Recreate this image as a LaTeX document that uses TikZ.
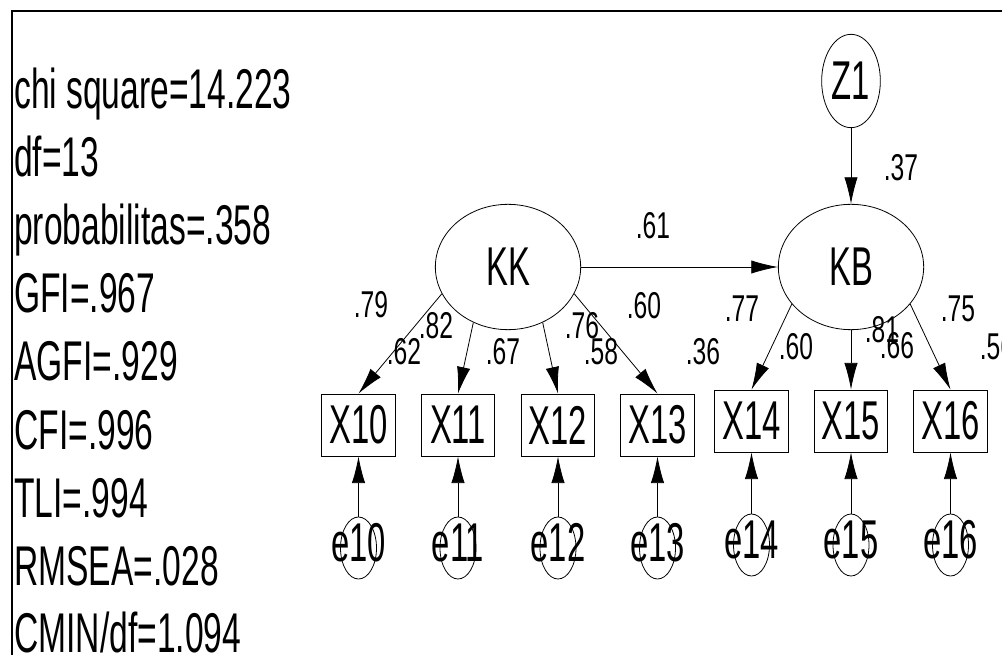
\documentclass[tikz,border=0pt]{standalone}
\usepackage{fontspec}
\setmainfont{Liberation Sans}
\newfontfamily\narfont[FakeStretch=0.6]{Liberation Sans}
\newfontfamily\coeffont[FakeStretch=0.66]{Liberation Sans}
\usetikzlibrary{arrows.meta,shapes.geometric}
\begin{document}
\begin{tikzpicture}[x=0.75pt,y=-0.75pt,
  big/.style={font=\narfont\fontsize{41}{41}\selectfont},
  coef/.style={font=\coeffont\fontsize{28}{28}\selectfont, inner sep=0},
  latent/.style={ellipse, draw, line width=0.6pt, inner sep=0, minimum width=109pt, minimum height=94pt, big},
  obs/.style={rectangle, draw, line width=0.6pt, inner sep=0, minimum width=55pt, minimum height=46.5pt, big},
  errnode/.style={ellipse, draw, line width=0.6pt, inner sep=0, minimum width=27pt, minimum height=46.5pt},
  arrowline/.style={draw, line width=0.6pt, -{Latex[length=20pt,width=10pt]}},
  fitstat/.style={anchor=base west, inner sep=0, font=\narfont\fontsize{42}{42}\selectfont},
  framel/.style={line width=1.5pt}]
\useasboundingbox (0,0) rectangle (1002,655);
% frame
\coordinate (fbl) at (12,655);
\coordinate (ftl) at (12,11);
\coordinate (ftr) at (1002,11);
\draw[framel] (fbl) -- (ftl) -- (ftr);
% fit statistics
\node[fitstat] (t1) at (14,109) {chi square=14.223};
\node[fitstat] (t2) at (14,177) {df=13};
\node[fitstat] (t3) at (14,245) {probabilitas=.358};
\node[fitstat] (t4) at (14,313) {GFI=.967};
\node[fitstat] (t5) at (14,381) {AGFI=.929};
\node[fitstat] (t6) at (14,449) {CFI=.996};
\node[fitstat] (t7) at (14,517) {TLI=.994};
\node[fitstat] (t8) at (14,585) {RMSEA=.028};
\node[fitstat] (t9) at (14,652) {CMIN/df=1.094};
% latent variables
\node[latent] (KK) at (508,267) {KK};
\node[latent] (KB) at (851,267) {KB};
\node[ellipse, draw, line width=0.6pt, inner sep=0, minimum width=44pt, minimum height=70pt, big] (Z1) at (851,81) {Z1};
% observed
\node[obs] (X10) at (358.5,425) {X10};
\node[obs] (X11) at (458,425) {X11};
\node[obs] (X12) at (558,425) {X12};
\node[obs] (X13) at (657.5,425) {X13};
\node[obs] (X14) at (751.5,421) {X14};
\node[obs] (X15) at (851,421) {X15};
\node[obs] (X16) at (950.5,421) {X16};
% errors
\node[errnode, label={[big, yshift=3.75pt]center:e10}] (e10) at (358.5,548) {};
\node[errnode, label={[big, yshift=3.75pt]center:e11}] (e11) at (458,548) {};
\node[errnode, label={[big, yshift=3.75pt]center:e12}] (e12) at (558,548) {};
\node[errnode, label={[big, yshift=3.75pt]center:e13}] (e13) at (657.5,548) {};
\node[errnode, label={[big, yshift=3.75pt]center:e14}] (e14) at (751.5,545) {};
\node[errnode, label={[big, yshift=3.75pt]center:e15}] (e15) at (851,545) {};
\node[errnode, label={[big, yshift=3.75pt]center:e16}] (e16) at (950.5,545) {};
% paths
\draw[arrowline] (KK.east) -- (KB.west);
\draw[arrowline] (Z1) -- (KB);
\draw[arrowline] (KK.202) -- (X10.north);
\draw[arrowline] (KK.238) -- (X11.north);
\draw[arrowline] (KK.302) -- (X12.north);
\draw[arrowline] (KK.338) -- (X13.north);
\draw[arrowline] (KB.212) -- (X14.north);
\draw[arrowline] (KB.south) -- (X15.north);
\draw[arrowline] (KB.328) -- (X16.north);
\foreach \i in {10,...,16}{\draw[arrowline] (e\i) -- (X\i);}
% coefficients
\node[coef] (c61) at (653,226) {.61};
\node[coef] (c37) at (901,168) {.37};
\node[coef] (c79) at (371,305) {.79};
\node[coef] (c82) at (436,326) {.82};
\node[coef] (c62) at (404,352) {.62};
\node[coef] (c67) at (503,352) {.67};
\node[coef] (c76) at (582,326) {.76};
\node[coef] (c58) at (601,352) {.58};
\node[coef] (c60a) at (644,306) {.60};
\node[coef] (c77) at (742,309) {.77};
\node[coef] (c36) at (703,352) {.36};
\node[coef] (c60b) at (796,347) {.60};
\node[coef] (c81) at (882,330) {.81};
\node[coef] (c66) at (897,346) {.66};
\node[coef] (c75) at (958,309) {.75};
\node[coef] (c56) at (997,347) {.56};
\end{tikzpicture}
\end{document}
